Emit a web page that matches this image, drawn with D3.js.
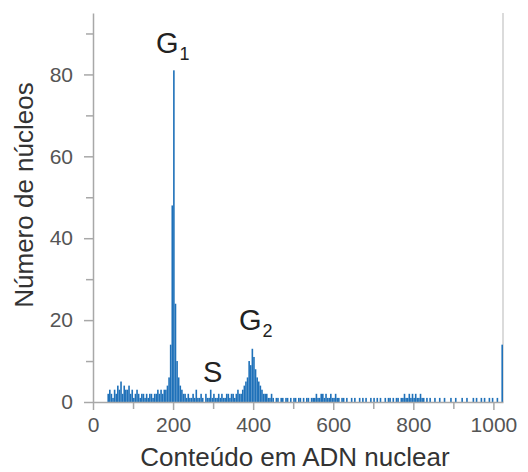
<!DOCTYPE html>
<html>
<head>
<meta charset="utf-8">
<script src="https://cdn.jsdelivr.net/npm/d3@7"></script>
<style>
  html, body { margin: 0; padding: 0; background: #fff; }
  svg { display: block; font-family: "Liberation Sans", Arial, sans-serif; }
</style>
</head>
<body>
<svg id="chart" width="528" height="472"></svg>
<script>
// ---- data ----
const binWidth = 4;                  // channels per bin
const xMax = 1024;                   // channel count
const yMax = 95;
const xTickValues = [0, 200, 400, 600, 800, 1000];
const xMinorTicks = [100, 300, 500, 700, 900];
const yTickValues = [0, 20, 40, 60, 80];
const yMinorTicks = [10, 30, 50, 70, 90];

const emptyStart = [0, 0, 0, 0, 0, 0, 0, 0, 0];                        // channels 0-35
const debris = [2,3,2,1,3, 2,4,3,5,2, 4,3,3,4,2, 3,1,2,3,2, 1,2,2,1,2, 1,2,2,1,2, 2,3,2,3,2,3]; // 36-179
const g1Peak = [3, 4, 6, 14, 48, 81, 24, 10, 6, 4, 3];                  // 180-223
const sPhase = [2,2,1,2,1, 1,2,1,3,1, 1,2,1,0,2, 1,1,3,1,2, 1,1,2,1,2, 1,1,2,2,1, 2,2,1,2,3, 2,2]; // 224-371
const g2Peak = [3, 4, 5, 6, 10, 9, 13, 11, 8, 6, 5, 4, 3, 2, 2];        // 372-431
const tail = [
  2,1,1,2,1,0,1,1,0,1,
  1,0,1,1,0,1,0,1,1,0,
  1,1,0,1,0,1,1,0,1,1,
  1,2,1,1,2,2,1,2,1,1,
  2,1,1,2,1,1,0,1,1,0,
  1,0,0,1,0,1,0,0,1,0,
  1,0,1,0,0,1,0,1,0,1,
  0,1,0,0,1,0,1,1,0,1,
  0,1,1,0,1,1,2,1,1,2,
  1,2,1,2,1,1,2,1,1,0,
  1,0,1,0,0,1,0,0,1,0,
  0,1,0,0,0,1,0,0,1,0,
  0,0,1,0,0,1,0,0,0,1,
  0,1,0,0,1,0,1,0,0,1,
  0,1,0,0,1,0,0
];                                                                        // 432-1019
const endSpike = [14];                                                    // 1020-1023

const counts = [].concat(emptyStart, debris, g1Peak, sPhase, g2Peak, tail, endSpike);
const bins = counts.map((c, i) => ({ x0: i * binWidth, x1: (i + 1) * binWidth, count: c }));

// ---- drawing ----
const svg = d3.select("#chart");
const margin = { left: 93, right: 25, top: 13, bottom: 70 };
const W = 528, H = 472;

const x = d3.scaleLinear().domain([0, xMax]).range([margin.left, W - margin.right]);
const y = d3.scaleLinear().domain([0, yMax]).range([H - margin.bottom, margin.top]);

const axisColor = "#a8a8a8";
const labelColor = "#555";
const barColor = "#1f71b9";

// right frame line
svg.append("line")
  .attr("x1", x(xMax)).attr("x2", x(xMax))
  .attr("y1", y(yMax)).attr("y2", y(0))
  .attr("stroke", "#cfcfcf").attr("stroke-width", 1.5);

// bars
svg.append("g").selectAll("rect")
  .data(bins.filter(d => d.count > 0))
  .join("rect")
  .attr("x", d => x(d.x0))
  .attr("width", d => x(d.x1) - x(d.x0))
  .attr("y", d => y(d.count))
  .attr("height", d => y(0) - y(d.count))
  .attr("fill", barColor);

// x axis
svg.append("g")
  .attr("transform", `translate(0,${y(0)})`)
  .call(d3.axisBottom(x).tickValues(xTickValues).tickFormat(d3.format("d"))
    .tickSize(8).tickPadding(7).tickSizeOuter(0));
svg.append("g")
  .attr("transform", `translate(0,${y(0)})`)
  .call(d3.axisBottom(x).tickValues(xMinorTicks).tickSize(7).tickFormat("").tickSizeOuter(0))
  .select(".domain").remove();

// y axis
svg.append("g")
  .attr("transform", `translate(${x(0)},0)`)
  .call(d3.axisLeft(y).tickValues(yTickValues).tickSize(9).tickPadding(11).tickSizeOuter(0));
svg.append("g")
  .attr("transform", `translate(${x(0)},0)`)
  .call(d3.axisLeft(y).tickValues(yMinorTicks).tickSize(7).tickFormat("").tickSizeOuter(0))
  .select(".domain").remove();

svg.selectAll(".domain").attr("stroke", axisColor).attr("stroke-width", 1.5);
svg.selectAll(".tick line").attr("stroke", axisColor).attr("stroke-width", 1.5);
svg.selectAll(".tick text")
  .attr("fill", labelColor)
  .attr("font-size", 21)
  .attr("font-family", "Liberation Sans, Arial, sans-serif");

// axis titles
svg.append("text")
  .attr("x", x(xMax / 2) - 3)
  .attr("y", 466)
  .attr("text-anchor", "middle")
  .attr("font-size", 26)
  .attr("fill", "#333")
  .text("Conteúdo em ADN nuclear");

svg.append("text")
  .attr("transform", `translate(33,${195}) rotate(-90)`)
  .attr("text-anchor", "middle")
  .attr("font-size", 26)
  .attr("fill", "#333")
  .text("Número de núcleos");

// phase labels
function phaseLabel(px, py, main, sub) {
  const t = svg.append("text")
    .attr("x", px).attr("y", py)
    .attr("font-size", 29)
    .attr("fill", "#222");
  t.append("tspan").text(main);
  if (sub) t.append("tspan").attr("font-size", 18).attr("dx", 1).attr("dy", 7).text(sub);
}
phaseLabel(156, 53, "G", "1");
phaseLabel(239, 330, "G", "2");
phaseLabel(203, 382, "S", null);
</script>
</body>
</html>
